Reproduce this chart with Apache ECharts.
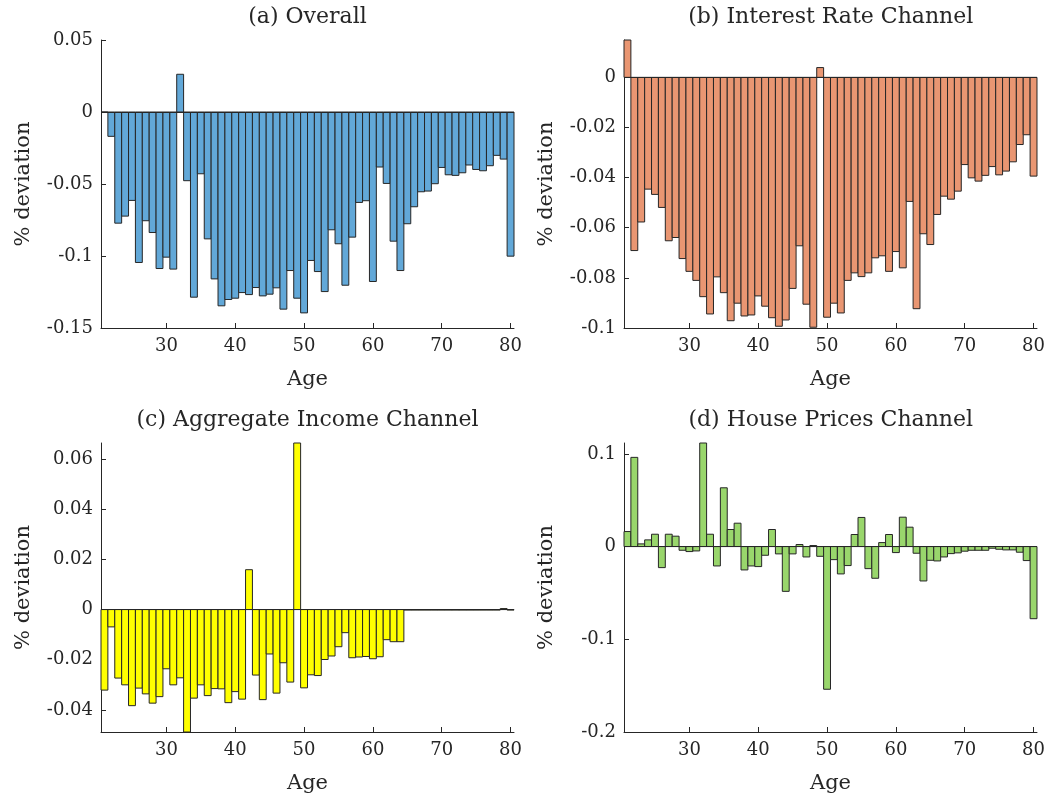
<!DOCTYPE html>
<html>
<head>
<meta charset="utf-8">
<script src="https://cdn.jsdelivr.net/npm/echarts@6/dist/echarts.min.js"></script>
<style>
  html, body { margin: 0; padding: 0; background: #ffffff; }
  #chart { width: 1048px; height: 798px; }
</style>
</head>
<body>
<div id="chart"></div>
<script>
// ---- Data -------------------------------------------------------------
const ages = [21,22,23,24,25,26,27,28,29,30,31,32,33,34,35,36,37,38,39,40,
              41,42,43,44,45,46,47,48,49,50,51,52,53,54,55,56,57,58,59,60,
              61,62,63,64,65,66,67,68,69,70,71,72,73,74,75,76,77,78,79,80];

const overall = [0, -0.0169, -0.0772, -0.0723, -0.0614, -0.1045, -0.0755, -0.0837, -0.1087, -0.1008,
  -0.1091, 0.0262, -0.0477, -0.1286, -0.0429, -0.0881, -0.1159, -0.1346, -0.1302, -0.1293,
  -0.1254, -0.1268, -0.1219, -0.1277, -0.1265, -0.1221, -0.1369, -0.1101, -0.1293, -0.1395,
  -0.1031, -0.1108, -0.1247, -0.0818, -0.0915, -0.1203, -0.0869, -0.0628, -0.0616, -0.1177,
  -0.0382, -0.0496, -0.0897, -0.1101, -0.0776, -0.0658, -0.0554, -0.0549, -0.0498, -0.0385,
  -0.0436, -0.0440, -0.0422, -0.0368, -0.0399, -0.0408, -0.0373, -0.0301, -0.0327, -0.1001];

const interestRate = [0.0149, -0.0691, -0.0577, -0.0446, -0.0467, -0.0519, -0.0652, -0.0639, -0.0723, -0.0774,
  -0.0810, -0.0875, -0.0944, -0.0796, -0.0859, -0.0971, -0.0901, -0.0952, -0.0948, -0.0872,
  -0.0913, -0.0959, -0.0993, -0.0968, -0.0842, -0.0672, -0.0905, -0.0997, 0.0039, -0.0957,
  -0.0901, -0.0940, -0.0810, -0.0780, -0.0795, -0.0780, -0.0720, -0.0712, -0.0774, -0.0695,
  -0.0760, -0.0495, -0.0923, -0.0624, -0.0667, -0.0547, -0.0474, -0.0486, -0.0454, -0.0348,
  -0.0401, -0.0414, -0.0391, -0.0356, -0.0389, -0.0374, -0.0337, -0.0268, -0.0229, -0.0394];

const aggIncome = [-0.0321, -0.0069, -0.0273, -0.0300, -0.0383, -0.0313, -0.0336, -0.0373, -0.0347, -0.0236,
  -0.0300, -0.0272, -0.0488, -0.0353, -0.0300, -0.0343, -0.0315, -0.0316, -0.0371, -0.0327,
  -0.0357, 0.0159, -0.0261, -0.0359, -0.0177, -0.0333, -0.0212, -0.0289, 0.0664, -0.0312,
  -0.0260, -0.0263, -0.0199, -0.0185, -0.0148, -0.0092, -0.0192, -0.0189, -0.0187, -0.0196,
  -0.0188, -0.0120, -0.0128, -0.0128, -0.0002, -0.0002, -0.0002, -0.0002, -0.0002, -0.0002,
  -0.0002, -0.0002, -0.0002, -0.0002, -0.0002, -0.0002, -0.0002, -0.0002, 0.0004, -0.0002];

const housePrices = [0.0162, 0.0962, 0.0029, 0.0072, 0.0133, -0.0227, 0.0133, 0.0112, -0.0040, -0.0054,
  -0.0047, 0.1117, 0.0133, -0.0209, 0.0634, 0.0184, 0.0252, -0.0252, -0.0209, -0.0216,
  -0.0094, 0.0184, -0.0079, -0.0483, -0.0079, 0.0022, -0.0112, 0.0011, -0.0105, -0.1539,
  -0.0141, -0.0295, -0.0205, 0.0130, 0.0314, -0.0238, -0.0342, 0.0043, 0.0130, -0.0065,
  0.0317, 0.0209, -0.0072, -0.0371, -0.0148, -0.0155, -0.0112, -0.0076, -0.0068, -0.0050,
  -0.0040, -0.0040, -0.0040, -0.0018, -0.0029, -0.0036, -0.0036, -0.0061, -0.0151, -0.0778];

const titles = ['(a) Overall', '(b) Interest Rate Channel', '(c) Aggregate Income Channel', '(d) House Prices Channel'];

const yTicksA = [-0.15, -0.1, -0.05, 0, 0.05];
const yTicksB = [-0.1, -0.08, -0.06, -0.04, -0.02, 0];
const yTicksC = [-0.04, -0.02, 0, 0.02, 0.04, 0.06];
const yTicksD = [-0.2, -0.1, 0, 0.1];
const xTickAges = [30, 40, 50, 60, 70, 80];

// ---- Styling / layout ---------------------------------------------------
const FONT = '"DejaVu Serif", "Liberation Serif", serif';
const INK = '#262626';
const colors = ['rgb(98,168,216)', 'rgb(233,150,114)', '#ffff00', 'rgb(153,214,108)'];

const grids = [
  { left: 101, top: 40, width: 413, height: 288 },
  { left: 624, top: 40, width: 413.5, height: 288 },
  { left: 101, top: 443, width: 413, height: 289 },
  { left: 624, top: 443, width: 413.5, height: 289 }
];

const panels = [
  { data: overall,      yTicks: yTicksA, min: -0.15, max: 0.05 },
  { data: interestRate, yTicks: yTicksB, min: -0.1,  max: 'dataMax' },
  { data: aggIncome,    yTicks: yTicksC, min: 'dataMin', max: 'dataMax' },
  { data: housePrices,  yTicks: yTicksD, min: -0.2,  max: 'dataMax' }
];

const isXTick = (idx, val) => xTickAges.indexOf(Number(val)) >= 0;
const fmt = v => String(Number(Number(v).toFixed(4)));

function barRenderer(color) {
  return function (params, api) {
    const idx = api.value(0);
    const v = api.value(1);
    const base = api.coord([idx, 0]);
    const top = api.coord([idx, v]);
    const w = api.size([1, 0])[0];
    return {
      type: 'rect',
      shape: { x: base[0] - w / 2, y: Math.min(base[1], top[1]), width: w, height: Math.abs(top[1] - base[1]) },
      style: { fill: color, stroke: INK, lineWidth: 1 }
    };
  };
}

const option = {
  animation: false,
  backgroundColor: '#ffffff',
  grid: grids.map(g => Object.assign({ containLabel: false }, g)),
  xAxis: panels.map((p, i) => ({
    type: 'category',
    gridIndex: i,
    data: ages,
    boundaryGap: true,
    name: 'Age',
    nameLocation: 'middle',
    nameGap: 41,
    nameTextStyle: { fontFamily: FONT, fontSize: 21, color: INK },
    axisLine: { show: true, onZero: false, lineStyle: { color: INK, width: 1 } },
    axisTick: { show: true, inside: true, length: 5, alignWithLabel: true, interval: isXTick,
                lineStyle: { color: INK, width: 1 } },
    axisLabel: { interval: isXTick, fontFamily: FONT, fontSize: 18, color: INK, margin: 9 },
    splitLine: { show: false }
  })),
  yAxis: panels.map((p, i) => ({
    type: 'value',
    gridIndex: i,
    min: p.min,
    max: p.max,
    name: '% deviation',
    nameLocation: 'middle',
    nameRotate: 90,
    nameGap: 67,
    nameTextStyle: { fontFamily: FONT, fontSize: 21, color: INK },
    axisLine: { show: true, onZero: false, lineStyle: { color: INK, width: 1 } },
    axisTick: { show: true, inside: true, length: 5, customValues: p.yTicks,
                lineStyle: { color: INK, width: 1 } },
    axisLabel: { customValues: p.yTicks, formatter: fmt, fontFamily: FONT, fontSize: 18, color: INK, margin: 8 },
    splitLine: { show: false }
  })),
  series: panels.map((p, i) => ({
    type: 'custom',
    xAxisIndex: i,
    yAxisIndex: i,
    data: p.data.map((v, k) => [k, v]),
    encode: { x: 0, y: 1 },
    clip: false,
    renderItem: barRenderer(colors[i]),
    markLine: {
      silent: true,
      symbol: 'none',
      label: { show: false },
      lineStyle: { color: INK, type: 'solid', width: 1 },
      data: [{ yAxis: 0 }]
    }
  })),
  graphic: titles.map((t, i) => ({
    type: 'text',
    x: grids[i].left + grids[i].width / 2,
    y: grids[i].top - 23,
    style: { text: t, fontFamily: FONT, fontSize: 22, fill: INK, align: 'center', verticalAlign: 'middle' }
  }))
};

const chart = echarts.init(document.getElementById('chart'), null, { renderer: 'canvas' });
chart.setOption(option);
</script>
</body>
</html>
